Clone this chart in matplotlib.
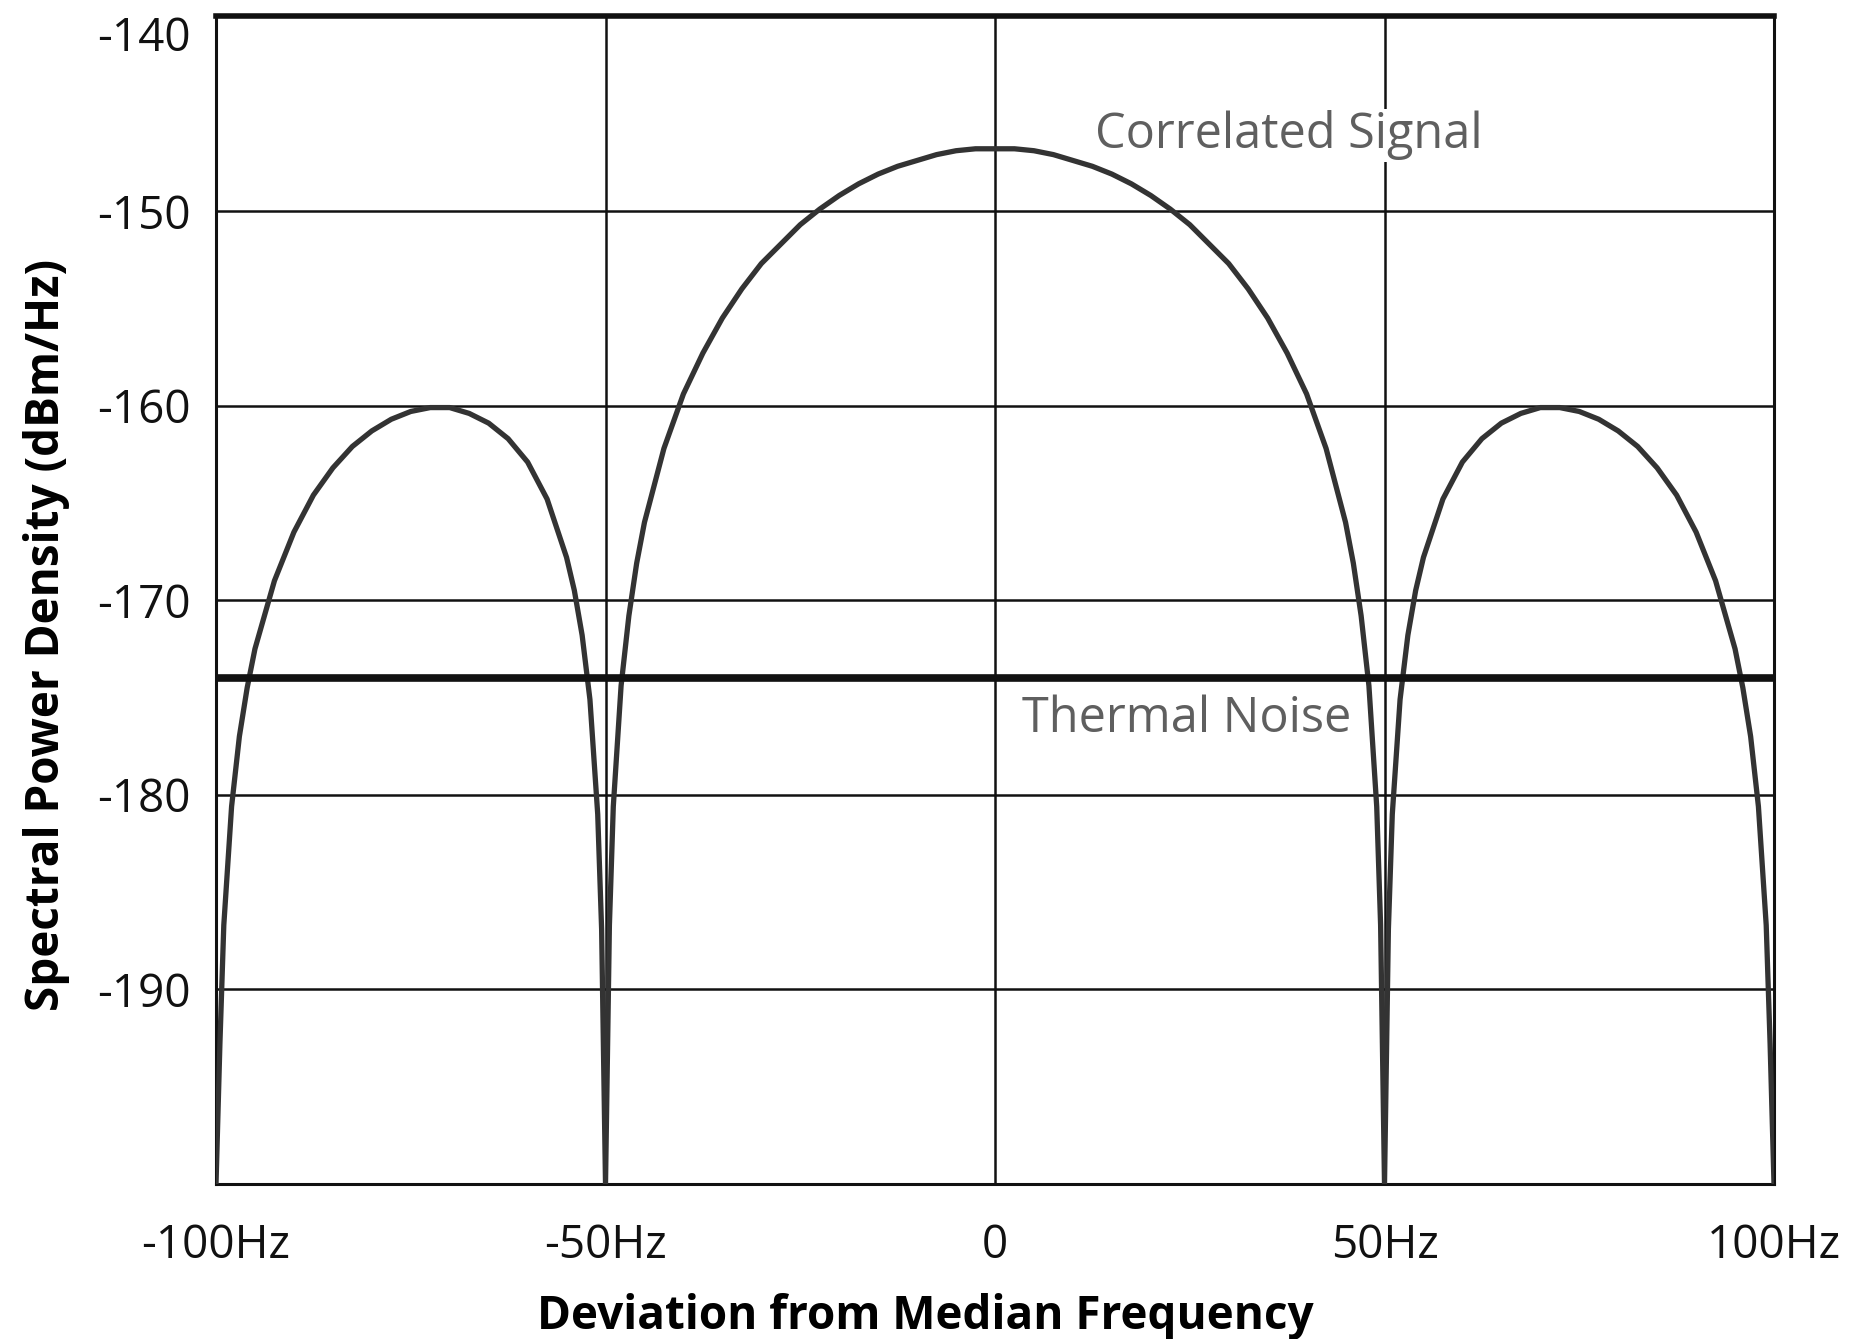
import matplotlib
matplotlib.use("Agg")
import matplotlib.pyplot as plt

# frequency offset (Hz) and spectral power density (dBm/Hz)
freq = [-100, -99.5, -99, -98, -97, -96, -95, -92.5, -90, -87.5, -85, -82.5, -80,
        -77.5, -75, -72.5, -70, -67.5, -65, -62.5, -60, -57.5, -55, -54, -53, -52,
        -51, -50.5, -50, -49.5, -49, -48, -47, -46, -45, -42.5, -40, -37.5, -35,
        -32.5, -30, -27.5, -25, -22.5, -20, -17.5, -15, -12.5, -10, -7.5, -5, -2.5,
        0, 2.5, 5, 7.5, 10, 12.5, 15, 17.5, 20, 22.5, 25, 27.5, 30, 32.5, 35, 37.5,
        40, 42.5, 45, 46, 47, 48, 49, 49.5, 50, 50.5, 51, 52, 53, 54, 55, 57.5, 60,
        62.5, 65, 67.5, 70, 72.5, 75, 77.5, 80, 82.5, 85, 87.5, 90, 92.5, 95, 96,
        97, 98, 99, 99.5, 100]
psd = [-200, -192.8, -186.7, -180.6, -177.0, -174.5, -172.5, -169.0, -166.5, -164.6,
       -163.2, -162.1, -161.3, -160.7, -160.3, -160.1, -160.1, -160.4, -160.9,
       -161.7, -162.9, -164.8, -167.8, -169.5, -171.8, -175.1, -181.0, -186.9, -200,
       -186.7, -180.6, -174.4, -170.8, -168.1, -166.0, -162.2, -159.4, -157.3,
       -155.5, -154.0, -152.7, -151.7, -150.7, -149.9, -149.2, -148.6, -148.1,
       -147.7, -147.4, -147.1, -146.9, -146.8,
       -146.8, -146.8, -146.9, -147.1, -147.4, -147.7, -148.1, -148.6, -149.2,
       -149.9, -150.7, -151.7, -152.7, -154.0, -155.5, -157.3, -159.4, -162.2,
       -166.0, -168.1, -170.8, -174.4, -180.6, -186.7, -200, -186.9, -181.0, -175.1,
       -171.8, -169.5, -167.8, -164.8, -162.9, -161.7, -160.9, -160.4, -160.1,
       -160.1, -160.3, -160.7, -161.3, -162.1, -163.2, -164.6, -166.5, -169.0,
       -172.5, -174.5, -177.0, -180.6, -186.7, -192.8, -200]
thermal_noise = -174

xticks = [-100, -50, 0, 50, 100]
xticklabels = ["-100Hz", "-50Hz", "0", "50Hz", "100Hz"]
yticks = [-140, -150, -160, -170, -180, -190]
yticklabels = ["-140", "-150", "-160", "-170", "-180", "-190"]

plt.rcParams['font.family'] = ['Open Sans', 'DejaVu Sans']
plt.rcParams['axes.unicode_minus'] = False

fig = plt.figure(figsize=(18.51, 13.39), dpi=100)
ax = fig.add_axes([0.1167, 0.1158, 0.8417, 0.8719])

ax.set_xlim(-100, 100)
ax.set_ylim(-200, -140)
ax.set_xticks(xticks)
ax.set_xticklabels(xticklabels)
ax.set_yticks(yticks)
ax.set_yticklabels(yticklabels)
ax.tick_params(length=0, labelsize=33, colors="#111111")
ax.tick_params(axis="x", pad=28)
ax.tick_params(axis="y", pad=18)
# top label sits below its grid line so it stays inside the figure
ax.get_yticklabels()[0].set_va("top")
ax.grid(True, color="#111111", linewidth=1.8)
ax.set_axisbelow(True)

for s in ax.spines.values():
    s.set_linewidth(2.2)
    s.set_color("#111111")
ax.spines["top"].set_linewidth(4)

ax.plot(freq, psd, color="#333333", linewidth=3.8, zorder=3)
ax.axhline(thermal_noise, color="#111111", linewidth=5.5, zorder=4)

ax.text(12.9, -146.1, "Correlated Signal", fontsize=35, color="#5f5f5f",
        va="center", ha="left", zorder=5,
        bbox=dict(facecolor="white", edgecolor="none", pad=1))
ax.text(3.5, -176.1, "Thermal Noise", fontsize=35, color="#5f5f5f",
        va="center", ha="left", zorder=5)

ax.set_xlabel("Deviation from Median Frequency", fontsize=33, fontweight="bold")
ax.xaxis.set_label_coords(0.455, -0.093)
ax.set_ylabel("Spectral Power Density (dBm/Hz)", fontsize=33, fontweight="bold")
ax.yaxis.set_label_coords(-0.094, 0.47)

plt.savefig("out.png", dpi=100)
